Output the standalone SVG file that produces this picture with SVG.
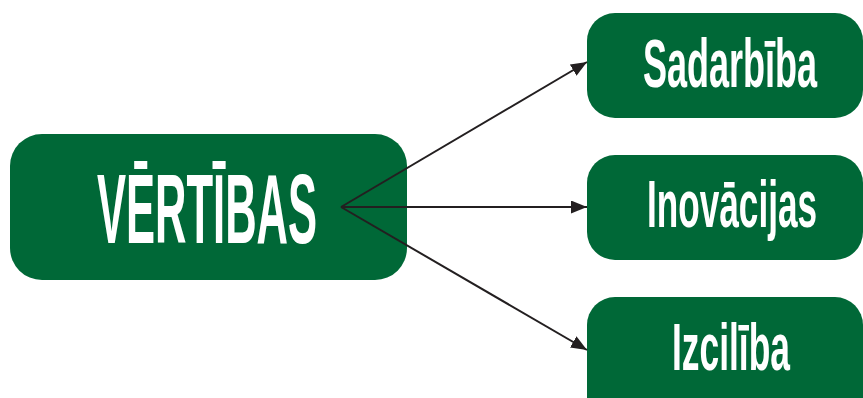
<svg xmlns="http://www.w3.org/2000/svg" width="863" height="398" viewBox="0 0 863 398">
<style>
.node{fill:#006837;}
.lbl{fill:#ffffff;font-family:"Liberation Sans",Arial,sans-serif;font-weight:bold;text-anchor:middle;}
.conn{stroke:#231f20;stroke-width:2;fill:none;}
</style>
<defs>
<marker id="ah" viewBox="0 0 16 13" refX="16" refY="6.5" markerWidth="16" markerHeight="13" markerUnits="userSpaceOnUse" orient="auto">
<path d="M0,0 L16,6.5 L0,13 Z" fill="#231f20"/>
</marker>
</defs>
<rect width="863" height="398" fill="#ffffff"/>
<g id="vertibas">
<rect class="node" x="10" y="134" width="397" height="146" rx="32"/>
<text class="lbl" transform="translate(207,243) scale(0.44,1)" font-size="99">VĒRTĪBAS</text>
</g>
<g id="sadarbiba">
<rect class="node" x="587" y="13" width="276" height="105" rx="28"/>
<text class="lbl" transform="translate(730,87) scale(0.53,1)" font-size="68">Sadarbība</text>
</g>
<g id="inovacijas">
<rect class="node" x="587" y="155" width="276" height="105" rx="28"/>
<text class="lbl" transform="translate(732,227) scale(0.533,1)" font-size="66">Inovācijas</text>
</g>
<g id="izciliba">
<rect class="node" x="587" y="297" width="276" height="130" rx="28"/>
<text class="lbl" transform="translate(731,370) scale(0.536,1)" font-size="66">Izcilība</text>
</g>
<g id="connectors">
<line class="conn" x1="341" y1="207" x2="587" y2="62" marker-end="url(#ah)"/>
<line class="conn" x1="341" y1="207" x2="587" y2="207" marker-end="url(#ah)"/>
<line class="conn" x1="341" y1="207" x2="587" y2="350" marker-end="url(#ah)"/>
</g>
</svg>
